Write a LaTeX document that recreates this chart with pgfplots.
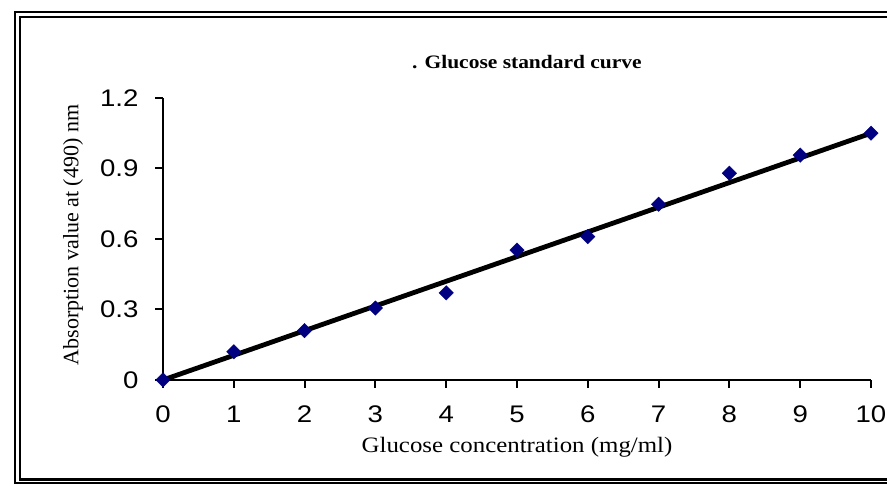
\documentclass[border=0pt]{standalone}
\usepackage{graphicx}
\usepackage{fontspec}
\setmainfont{Liberation Serif}
\newfontfamily\arial{Liberation Sans}
\usepackage{pgfplots}
\pgfplotsset{compat=1.18}
\definecolor{navyb}{RGB}{0,0,128}
\newcommand{\sx}[1]{\scalebox{1.15}[1]{#1}}
\newcommand{\sxx}[1]{\scalebox{1.13}[1]{#1}}
\newcommand{\tickf}{\arial\fontsize{24}{28}\selectfont}
\begin{document}
\begin{tikzpicture}
\useasboundingbox (0pt,0pt) rectangle (887pt,486pt);
\clip (0pt,0pt) rectangle (887pt,486pt);
\draw[line width=1.6pt] (15pt,3pt) rectangle (960pt,474pt);
\draw[line width=2.8pt] (20pt,6.5pt) rectangle (955pt,469pt);
\begin{axis}[
  at={(163pt,106pt)}, anchor=origin,
  scale only axis, width=708pt, height=282pt,
  xmin=0, xmax=10, ymin=0, ymax=1.2,
  axis lines*=left,
  axis line style={line width=2pt},
  tick align=outside,
  major tick length=8pt,
  every tick/.style={line width=2pt, black},
  xtick={0,1,2,3,4,5,6,7,8,9,10},
  xticklabels={\sx{0},\sx{1},\sx{2},\sx{3},\sx{4},\sx{5},\sx{6},\sx{7},\sx{8},\sx{9},\sx{10}},
  ytick={0,0.3,0.6,0.9,1.2},
  yticklabels={\sx{0},\sx{0.3},\sx{0.6},\sx{0.9},\sx{1.2}},
  tick label style={font=\tickf},
  xticklabel style={yshift=-14pt},
  yticklabel style={xshift=-13pt},
  clip=false,
  xlabel={\sxx{Glucose concentration (mg/ml)}},
  xlabel style={font=\fontsize{22}{26}\selectfont, at={(axis description cs:0.5,-0.2376)}, anchor=center},
  ylabel={Absorption value at (490) nm},
  ylabel style={font=\fontsize{22}{26}\selectfont, at={(axis description cs:-0.127,0.514)}, anchor=center, rotate=0},
  title={\sxx{. Glucose standard curve}},
  title style={font=\bfseries\fontsize{19}{23}\selectfont, at={(axis description cs:0.514,1.106)}, anchor=center},
]
\addplot[only marks, mark=square*, mark size=5.1pt, mark options={rotate=45, fill=navyb, draw=navyb}]
  coordinates {(0,0) (1,0.12) (2,0.21) (3,0.306) (4,0.371) (5,0.553) (6,0.61) (7,0.748) (8,0.88) (9,0.957) (10,1.05)};
\addplot[black, line width=4.8pt] coordinates {(0,0) (10,1.05)};
\end{axis}
\end{tikzpicture}
\end{document}
